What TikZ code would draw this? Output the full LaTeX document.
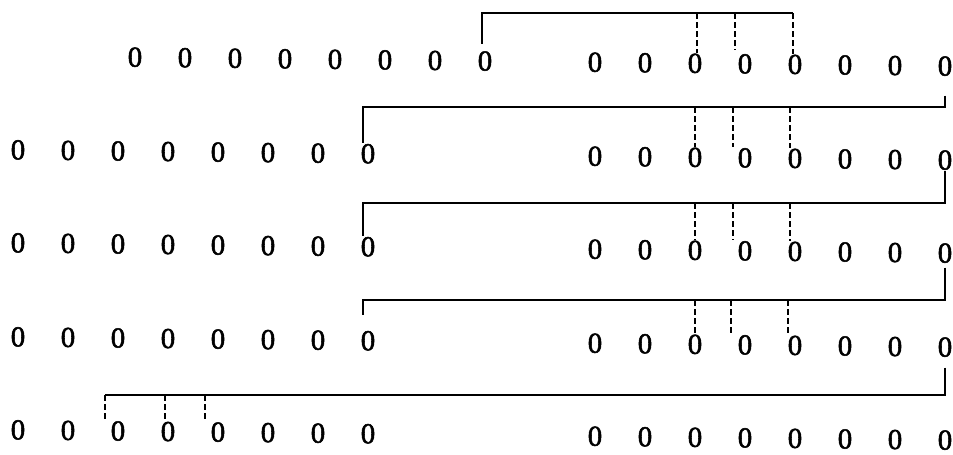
\documentclass[tikz,border=0pt]{standalone}
\usepackage{fontspec}
\setmainfont{Liberation Serif}
\newfontfamily\zerofont[FakeBold=1.8]{Liberation Serif}
\begin{document}
\begin{tikzpicture}[x=1pt,y=-1pt,
  zero/.style={inner sep=0.5pt, font=\zerofont\fontsize{29}{29}\selectfont},
  solidline/.style={line width=1.4pt},
  dashline/.style={line width=1.4pt, dash pattern=on 6pt off 3pt}]
\useasboundingbox (0,0) rectangle (953,455);
% zeros (the scan is slightly tilted: rows drop a little to the right)
\foreach \i in {1,...,8} {
  \node[zero] (L1-\i) at ({135+50*(\i-1)},{61+0.011*(135+50*(\i-1)-480)}) {0};
  \node[zero] (R1-\i) at ({595+50*(\i-1)},{61+0.011*(595+50*(\i-1)-480)}) {0};
}
\foreach \r/\y in {2/155,3/248,4/342,5/435} {
  \foreach \i in {1,...,8} {
    \node[zero] (L\r-\i) at ({18+50*(\i-1)},{\y+0.011*(18+50*(\i-1)-480)}) {0};
    \node[zero] (R\r-\i) at ({595+50*(\i-1)},{\y+0.011*(595+50*(\i-1)-480)}) {0};
  }
}
% levels of the horizontal lines
\coordinate (k1) at (0,13);
\coordinate (k2) at (0,107);
\coordinate (k3) at (0,203);
\coordinate (k4) at (0,300);
\coordinate (k5) at (0,395);
% bracket 1
\path ([xshift=-3pt,yshift=7pt]L1-8.north) coordinate (s1);
\path ([xshift=-2pt]R1-5.north) coordinate (e1);
\draw[solidline] (s1) |- (e1 |- k1) coordinate (c1);
\draw[dashline] (c1) -- (e1);
\draw[dashline] ([xshift=2pt]R1-3.north |- k1) -- ([xshift=2pt]R1-3.north);
\path ([xshift=-10pt,yshift=4pt]R1-4.north) coordinate (d1);
\draw[dashline] (d1 |- k1) -- (d1);
% bracket 2
\path ([xshift=-5pt]L2-8.north) coordinate (q2);
\draw[solidline] ([yshift=-19pt]R1-8.south) |- (q2 |- k2) -- (q2);
\draw[dashline] (R2-3.north |- k2) -- (R2-3.north);
\path ([xshift=-12pt]R2-4.north) coordinate (d2a);
\draw[dashline] (d2a |- k2) -- (d2a);
\path ([xshift=-5pt]R2-5.north) coordinate (d2b);
\draw[dashline] (d2b |- k2) -- (d2b);
% bracket 3
\path ([xshift=-5pt]L3-8.north) coordinate (q3);
\draw[solidline] (R2-8.south) |- (q3 |- k3) -- (q3);
\draw[dashline] (R3-3.north |- k3) -- (R3-3.north);
\path ([xshift=-12pt]R3-4.north) coordinate (d3a);
\draw[dashline] (d3a |- k3) -- (d3a);
\path ([xshift=-5pt]R3-5.north) coordinate (d3b);
\draw[dashline] (d3b |- k3) -- (d3b);
% bracket 4
\path ([xshift=-5pt,yshift=15pt]L4-8.north) coordinate (q4);
\draw[solidline] ([yshift=-4pt]R3-8.south) |- (q4 |- k4) -- (q4);
\draw[dashline] (R4-3.north |- k4) -- (R4-3.north);
\path ([xshift=-14pt]R4-4.north) coordinate (d4a);
\draw[dashline] (d4a |- k4) -- (d4a);
\path ([xshift=-7pt]R4-5.north) coordinate (d4b);
\draw[dashline] (d4b |- k4) -- (d4b);
% bracket 5
\path ([xshift=-13pt]L5-3.north) coordinate (q5);
\draw[solidline] ([yshift=-10pt]R4-8.south) |- (q5 |- k5) coordinate (c5);
\draw[dashline] (c5) -- (q5);
\path ([xshift=-3pt]L5-4.north) coordinate (d5a);
\draw[dashline] (d5a |- k5) -- (d5a);
\path ([xshift=-13pt]L5-5.north) coordinate (d5b);
\draw[dashline] (d5b |- k5) -- (d5b);
\end{tikzpicture}
\end{document}
